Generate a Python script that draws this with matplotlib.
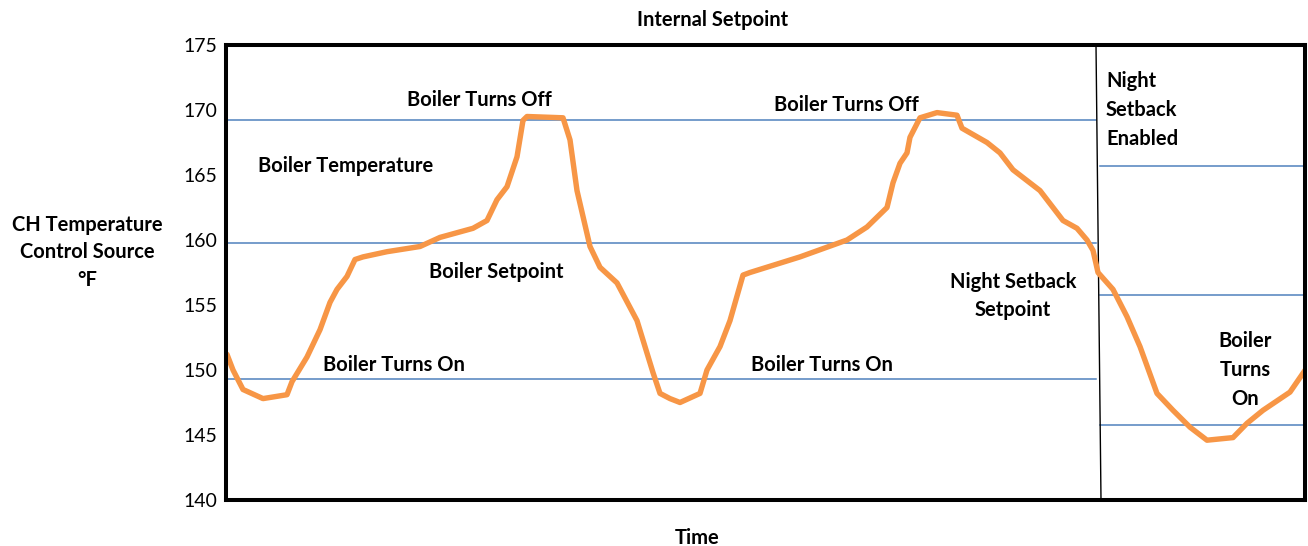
import matplotlib
matplotlib.use("Agg")
import matplotlib.pyplot as plt

# ── data (time in arbitrary units, temperature in °F) ──
boiler_time = [1, 7, 17, 37, 61, 66, 81, 94, 104, 111, 121, 129, 137, 161, 194,
               214, 247, 261, 271, 281, 291, 297, 301, 337, 344, 351, 364, 374,
               391, 411, 427, 434, 444, 454, 474, 481, 494, 504, 517, 524, 574,
               621, 641, 661, 667, 674, 681, 684, 694, 711, 731, 736, 761, 774,
               787, 814, 837, 851, 861, 867, 872, 887, 901, 914, 931, 947, 964,
               981, 1007, 1021, 1037, 1064, 1081]
boiler_temp = [151.2, 150.0, 148.5, 147.8, 148.1, 149.1, 151.0, 153.1, 155.2,
               156.2, 157.2, 158.5, 158.7, 159.1, 159.5, 160.2, 160.9, 161.5,
               163.1, 164.1, 166.4, 169.2, 169.5, 169.4, 167.7, 163.8, 159.5,
               157.9, 156.7, 153.8, 149.8, 148.2, 147.8, 147.5, 148.2, 150.0,
               151.8, 153.8, 157.3, 157.5, 158.7, 160.0, 161.0, 162.5, 164.4,
               165.9, 166.7, 167.9, 169.4, 169.8, 169.6, 168.6, 167.5, 166.7,
               165.4, 163.8, 161.5, 160.9, 160.0, 159.2, 157.5, 156.2, 154.1,
               151.8, 148.2, 146.9, 145.6, 144.6, 144.8, 145.9, 146.9, 148.3,
               150.2]

day_levels = [169.2, 159.8, 149.3]      # turns off / setpoint / turns on
night_levels = [165.7, 155.8, 145.8]    # night setback band
setback_start = [870, 875]              # divider (top, bottom) in time units
t_end = 1079

y_ticks = [140, 145, 150, 155, 160, 165, 170, 175]

ORANGE = "#f79646"
BLUE = "#4f81bd"
FONT = "Lato"
FS = 14.5
LS = 1.54

fig = plt.figure(figsize=(13.08, 5.46), dpi=100)
ax = fig.add_axes([226 / 1308, 1 - 500 / 546, (1305 - 226) / 1308, 455 / 546])

for lvl in day_levels:
    ax.plot([0, setback_start[0]], [lvl, lvl], color=BLUE, lw=1.1)
for lvl in night_levels:
    ax.plot([setback_start[1] - 1, t_end], [lvl, lvl], color=BLUE, lw=1.1)
ax.plot([setback_start[0], setback_start[1]], [175, 140], color="black", lw=1.0)

ax.plot(boiler_time, boiler_temp, color=ORANGE, lw=3.9,
        solid_joinstyle="round", solid_capstyle="round")

ax.set_xlim(0, t_end)
ax.set_ylim(140, 175)
ax.set_xticks([])
ax.set_yticks(y_ticks)
ax.tick_params(axis="y", length=0, pad=6, labelsize=14)
for lab in ax.get_yticklabels():
    lab.set_fontfamily(FONT)
for s in ax.spines.values():
    s.set_linewidth(2.9)

kw = dict(fontsize=FS, fontweight="bold", family=FONT, color="black")
ax.text(253, 170.8, "Boiler Turns Off", ha="center", va="center", **kw)
ax.text(620, 170.4, "Boiler Turns Off", ha="center", va="center", **kw)
ax.text(32, 165.7, "Boiler Temperature", ha="left", va="center", **kw)
ax.text(270, 157.5, "Boiler Setpoint", ha="center", va="center", **kw)
ax.text(168, 150.4, "Boiler Turns On", ha="center", va="center", **kw)
ax.text(596, 150.4, "Boiler Turns On", ha="center", va="center", **kw)
ax.text(787, 155.7, "Night Setback\nSetpoint", ha="center", va="center",
        linespacing=LS * 0.95, **kw)
ax.text(880, 170.0, "Night\nSetback\nEnabled", ha="left", va="center",
        linespacing=LS, **kw)
ax.text(1019, 150.0, "Boiler\nTurns\nOn", ha="center", va="center",
        linespacing=LS, multialignment="center", **kw)

fig.text(713 / 1308, 1 - 20 / 546, "Internal Setpoint", ha="center", va="center", **kw)
fig.text(697 / 1308, 1 - 538 / 546, "Time", ha="center", va="center", **kw)
fig.text(87 / 1308, 1 - 252.5 / 546, "CH Temperature\nControl Source\n°F",
         ha="center", va="center", linespacing=LS * 0.95, **kw)

fig.savefig("out.png", dpi=100)
